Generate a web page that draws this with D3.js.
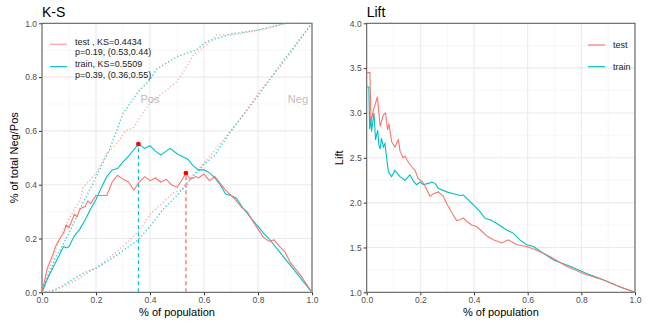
<!DOCTYPE html>
<html>
<head>
<meta charset="utf-8">
<script src="https://cdn.jsdelivr.net/npm/d3@7"></script>
<style>
  body { margin: 0; background: #fff; }
  text { font-family: "Liberation Sans", Arial, sans-serif; }
</style>
</head>
<body>
<svg id="chart" width="648" height="324"></svg>
<script>
// ---- K-S panel data (x = % of population) ----
var ksTestX = [0,0.02,0.04,0.05,0.06,0.08,0.09,0.10,0.12,0.13,0.14,0.16,0.17,0.18,0.20,0.22,0.24,0.26,0.28,0.30,0.32,0.34,0.36,0.38,0.40,0.42,0.44,0.46,0.48,0.50,0.52,0.533,0.55,0.57,0.58,0.60,0.62,0.64,0.66,0.68,0.70,0.72,0.74,0.76,0.78,0.80,0.82,0.84,0.86,0.88,0.90,0.92,0.94,0.96,0.98,1]
var ksTestY = [0,0.09,0.14,0.17,0.19,0.22,0.25,0.24,0.29,0.28,0.31,0.32,0.34,0.33,0.36,0.36,0.36,0.41,0.435,0.42,0.41,0.38,0.41,0.43,0.415,0.425,0.41,0.42,0.40,0.39,0.42,0.4434,0.42,0.43,0.425,0.44,0.415,0.43,0.405,0.38,0.36,0.34,0.315,0.30,0.265,0.235,0.205,0.19,0.195,0.17,0.15,0.11,0.085,0.06,0.03,0]
var ksTrainX = [0,0.02,0.04,0.06,0.08,0.09,0.10,0.12,0.14,0.16,0.18,0.20,0.22,0.24,0.26,0.28,0.30,0.32,0.34,0.357,0.38,0.40,0.42,0.44,0.46,0.475,0.50,0.52,0.54,0.56,0.58,0.60,0.62,0.64,0.66,0.68,0.70,0.72,0.74,0.77,0.80,0.82,0.84,0.86,0.88,0.90,0.92,0.94,0.96,0.98,1]
var ksTrainY = [0,0.05,0.09,0.13,0.17,0.165,0.17,0.21,0.235,0.27,0.31,0.345,0.39,0.43,0.455,0.46,0.485,0.505,0.53,0.5509,0.535,0.545,0.525,0.51,0.525,0.535,0.515,0.505,0.495,0.47,0.455,0.455,0.445,0.425,0.40,0.365,0.36,0.35,0.32,0.28,0.245,0.22,0.20,0.175,0.15,0.125,0.10,0.075,0.05,0.025,0]

var posTestX = [0,0.054,0.079,0.104,0.141,0.153,0.2,0.24,0.277,0.31,0.338,0.363,0.40,0.462,0.499,0.536,0.56,0.61,0.647,0.708,0.832,0.906,1]
var posTestY = [0,0.17,0.232,0.281,0.343,0.39,0.442,0.517,0.554,0.60,0.61,0.65,0.703,0.752,0.783,0.839,0.882,0.92,0.957,0.957,0.98,1,1]
var posTrainX = [0,0.05,0.067,0.1,0.128,0.15,0.19,0.2,0.25,0.3,0.357,0.4,0.425,0.5,0.57,0.61,0.7,0.8,0.9,1]
var posTrainY = [0,0.13,0.157,0.22,0.28,0.33,0.405,0.43,0.53,0.665,0.746,0.79,0.83,0.876,0.90,0.932,0.96,0.975,1,1]

var negTestX = [0,0.05,0.1,0.15,0.2,0.25,0.3,0.363,0.40,0.45,0.486,0.533,0.554,0.6,0.65,0.7,0.75,0.8,0.85,0.9,0.95,1]
var negTestY = [0,0.01,0.03,0.06,0.09,0.13,0.17,0.232,0.29,0.335,0.37,0.387,0.43,0.48,0.54,0.6,0.665,0.74,0.80,0.86,0.93,1]
var negTrainX = [0,0.03,0.07,0.1,0.15,0.2,0.25,0.3,0.357,0.4,0.45,0.5,0.536,0.6,0.64,0.7,0.75,0.8,0.85,0.9,0.95,1]
var negTrainY = [0,0,0.02,0.04,0.07,0.09,0.12,0.155,0.196,0.245,0.31,0.36,0.405,0.475,0.51,0.6,0.665,0.73,0.80,0.87,0.935,1]

// KS maxima: [x, y]
var ksTestMax = [0.533, 0.4434]
var ksTrainMax = [0.357, 0.5509]
var legendLabels = [['test , KS=0.4434', 'p=0.19, (0.53,0.44)'], ['train, KS=0.5509', 'p=0.39, (0.36,0.55)']]

// ---- Lift panel data ----
var liftTestX = [0,0.012,0.016,0.025,0.04,0.05,0.062,0.07,0.078,0.083,0.093,0.105,0.118,0.124,0.135,0.143,0.155,0.168,0.18,0.192,0.205,0.215,0.236,0.249,0.267,0.286,0.298,0.317,0.335,0.348,0.36,0.373,0.392,0.41,0.422,0.447,0.472,0.503,0.528,0.559,0.596,0.634,0.683,0.745,0.807,0.857,0.87,0.944,1]
var liftTestY = [3.45,3.45,2.90,3.03,3.18,2.85,2.98,3.0,2.81,2.88,2.68,2.62,2.70,2.58,2.50,2.52,2.45,2.40,2.36,2.27,2.24,2.20,2.07,2.10,2.12,2.07,1.99,1.89,1.80,1.81,1.83,1.79,1.75,1.73,1.70,1.63,1.585,1.55,1.585,1.53,1.51,1.47,1.40,1.29,1.21,1.16,1.15,1.063,1.0]
var liftTrainX = [0,0.008,0.011,0.016,0.018,0.027,0.033,0.041,0.045,0.05,0.055,0.062,0.068,0.075,0.081,0.093,0.105,0.124,0.143,0.161,0.174,0.186,0.199,0.211,0.23,0.242,0.255,0.267,0.298,0.323,0.348,0.36,0.379,0.404,0.422,0.441,0.46,0.484,0.522,0.546,0.571,0.596,0.621,0.658,0.696,0.758,0.82,0.882,0.944,1]
var liftTrainY = [3.29,3.29,2.82,2.96,2.79,3.0,2.70,2.81,2.65,2.60,2.72,2.62,2.66,2.48,2.345,2.29,2.36,2.29,2.25,2.31,2.24,2.20,2.23,2.20,2.215,2.23,2.215,2.16,2.12,2.10,2.08,2.085,2.03,1.955,1.90,1.825,1.81,1.77,1.695,1.66,1.585,1.53,1.51,1.435,1.36,1.29,1.21,1.14,1.06,1.0]

var xTicks = [0, 0.2, 0.4, 0.6, 0.8, 1.0]
var ksYTicks = [0, 0.2, 0.4, 0.6, 0.8, 1.0]
var liftYTicks = [1.0, 1.5, 2.0, 2.5, 3.0, 3.5, 4.0]

var red = '#F8766D'
var teal = '#00BFC4'

function zip(xs, ys){ return xs.map(function(x, i){ return [x, ys[i]] }) }

var svg = d3.select('#chart')

function drawPanel(left, right, yDomain, yTicks, yMinor, title, yTitle){
    var x = d3.scaleLinear().domain([0, 1]).range([left, right])
    var y = d3.scaleLinear().domain(yDomain).range([292.3, 23.3])
    var g = svg.append('g')

    var xMinor = [0.1, 0.3, 0.5, 0.7, 0.9]
    g.selectAll('.xmin').data(xMinor).enter().append('line')
        .attr('x1', d => x(d)).attr('x2', d => x(d)).attr('y1', y.range()[0]).attr('y2', y.range()[1])
        .attr('stroke', '#F2F2F2').attr('stroke-width', 0.6)
    g.selectAll('.ymin').data(yMinor).enter().append('line')
        .attr('y1', d => y(d)).attr('y2', d => y(d)).attr('x1', left).attr('x2', right)
        .attr('stroke', '#F2F2F2').attr('stroke-width', 0.6)
    g.selectAll('.xmaj').data(xTicks).enter().append('line')
        .attr('x1', d => x(d)).attr('x2', d => x(d)).attr('y1', y.range()[0]).attr('y2', y.range()[1])
        .attr('stroke', '#EBEBEB').attr('stroke-width', 1.1)
    g.selectAll('.ymaj').data(yTicks).enter().append('line')
        .attr('y1', d => y(d)).attr('y2', d => y(d)).attr('x1', left).attr('x2', right)
        .attr('stroke', '#EBEBEB').attr('stroke-width', 1.1)

    var xAxis = d3.axisBottom(x).tickValues(xTicks).tickFormat(d3.format('.1f')).tickSize(3).tickPadding(2)
    var yAxis = d3.axisLeft(y).tickValues(yTicks).tickFormat(d3.format('.1f')).tickSize(3).tickPadding(2)
    var ax = g.append('g').attr('transform', 'translate(0,292.3)').call(xAxis)
    var ay = g.append('g').attr('transform', 'translate(' + left + ',0)').call(yAxis)
    ;[ax, ay].forEach(function(a){
        a.select('.domain').remove()
        a.selectAll('line').attr('stroke', '#333')
        a.selectAll('text').attr('fill', '#4D4D4D').style('font-size', '8.5px')
    })

    g.append('rect').attr('x', left).attr('y', 23.3).attr('width', right - left).attr('height', 269)
        .attr('fill', 'none').attr('stroke', '#555').attr('stroke-width', 1)

    g.append('text').attr('x', left).attr('y', 17).text(title).style('font-size', '14px').attr('fill', '#000')
    g.append('text').attr('x', (left + right) / 2).attr('y', 316).attr('text-anchor', 'middle')
        .text('% of population').style('font-size', '11px')
    g.append('text').attr('transform', 'translate(' + (left - 24) + ',' + 157.8 + ') rotate(-90)')
        .attr('text-anchor', 'middle').text(yTitle).style('font-size', '11px')
    return {x: x, y: y, g: g}
}

// ---- K-S panel ----
var p1 = drawPanel(42, 312, [0, 1], ksYTicks, [0.1, 0.3, 0.5, 0.7, 0.9], 'K-S', '% of total Neg/Pos')
var line1 = d3.line().x(d => p1.x(d[0])).y(d => p1.y(d[1]))

p1.g.append('text').attr('x', p1.x(0.40)).attr('y', p1.y(0.705)).attr('text-anchor', 'middle')
    .text('Pos').attr('fill', '#BEBEBE').style('font-size', '11px')
p1.g.append('text').attr('x', p1.x(0.948)).attr('y', p1.y(0.705)).attr('text-anchor', 'middle')
    .text('Neg').attr('fill', '#BEBEBE').style('font-size', '11px')

var dotted = [[posTrainX, posTrainY, teal, 0.8], [negTrainX, negTrainY, teal, 0.8],
              [posTestX, posTestY, red, 0.6], [negTestX, negTestY, red, 0.6]]
dotted.forEach(function(s){
    p1.g.append('path').datum(zip(s[0], s[1])).attr('d', line1)
        .attr('fill', 'none').attr('stroke', s[2]).attr('stroke-opacity', s[3])
        .attr('stroke-width', 1.3).attr('stroke-dasharray', '1.3,2.2')
})

p1.g.append('path').datum(zip(ksTrainX, ksTrainY)).attr('d', line1)
    .attr('fill', 'none').attr('stroke', teal).attr('stroke-width', 1.1)
p1.g.append('path').datum(zip(ksTestX, ksTestY)).attr('d', line1)
    .attr('fill', 'none').attr('stroke', red).attr('stroke-width', 1.1)

p1.g.append('line').attr('x1', p1.x(ksTrainMax[0])).attr('x2', p1.x(ksTrainMax[0]))
    .attr('y1', p1.y(0)).attr('y2', p1.y(ksTrainMax[1]))
    .attr('stroke', teal).attr('stroke-width', 1.1).attr('stroke-dasharray', '4,3')
p1.g.append('line').attr('x1', p1.x(ksTestMax[0])).attr('x2', p1.x(ksTestMax[0]))
    .attr('y1', p1.y(0)).attr('y2', p1.y(ksTestMax[1]))
    .attr('stroke', red).attr('stroke-opacity', 0.7).attr('stroke-width', 2).attr('stroke-dasharray', '4,3')

p1.g.selectAll('.kspt').data([ksTrainMax, ksTestMax]).enter().append('circle')
    .attr('cx', d => p1.x(d[0])).attr('cy', d => p1.y(d[1])).attr('r', 2.4).attr('fill', '#FF0000')

// legend K-S
;[[red, 44.3, 0.7], [teal, 66.7, 1]].forEach(function(k, i){
    p1.g.append('line').attr('x1', 50).attr('x2', 67).attr('y1', k[1]).attr('y2', k[1])
        .attr('stroke', k[0]).attr('stroke-opacity', k[2]).attr('stroke-width', 1.2)
    p1.g.append('text').attr('x', 75).attr('y', k[1] + 0.7).text(legendLabels[i][0]).style('font-size', '9px').attr('fill', '#1a1a1a')
    p1.g.append('text').attr('x', 75).attr('y', k[1] + 10.9).text(legendLabels[i][1]).style('font-size', '9px').attr('fill', '#1a1a1a')
})

// ---- Lift panel ----
var p2 = drawPanel(366.7, 635, [1, 4], liftYTicks, [1.25, 1.75, 2.25, 2.75, 3.25, 3.75], 'Lift', 'Lift')
var line2 = d3.line().x(d => p2.x(d[0])).y(d => p2.y(d[1]))
p2.g.append('path').datum(zip(liftTrainX, liftTrainY)).attr('d', line2)
    .attr('fill', 'none').attr('stroke', teal).attr('stroke-width', 1.1)
p2.g.append('path').datum(zip(liftTestX, liftTestY)).attr('d', line2)
    .attr('fill', 'none').attr('stroke', red).attr('stroke-width', 1.1)

;[['test', red, 45], ['train', teal, 66.7]].forEach(function(k){
    p2.g.append('line').attr('x1', 588).attr('x2', 605).attr('y1', k[2]).attr('y2', k[2])
        .attr('stroke', k[1]).attr('stroke-width', 1.2)
    p2.g.append('text').attr('x', 613).attr('y', k[2] + 3.2).text(k[0]).style('font-size', '9px').attr('fill', '#1a1a1a')
})
</script>
</body>
</html>
